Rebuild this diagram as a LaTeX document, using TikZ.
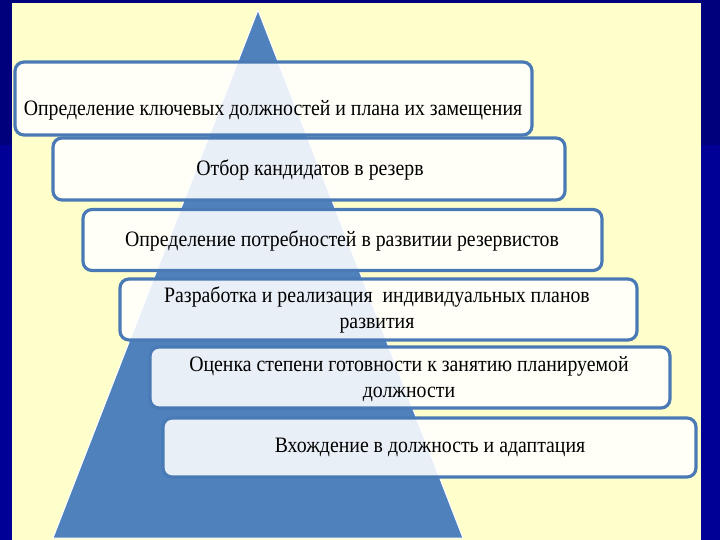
\documentclass[tikz,border=0pt]{standalone}
\usepackage{fontspec}
\setmainfont[FakeStretch=0.9]{Liberation Serif}
\usetikzlibrary{calc}
\definecolor{navytop}{HTML}{00007C}
\definecolor{navylow}{HTML}{000096}
\definecolor{panel}{HTML}{FFFFCC}
\definecolor{pyrblue}{HTML}{4F81BD}
\definecolor{boxblue}{HTML}{4A7AB5}

\begin{document}
\begin{tikzpicture}[x=1pt, y=-1pt,
		stagebox/.style={draw=boxblue, line width=3.2pt, rounded corners=9pt, fill=white, fill opacity=0.88},
		stagetext/.style={align=center, font=\fontsize{22}{26}\selectfont, text=black, inner sep=0pt}]
		\useasboundingbox (0,0) rectangle (720,540);

		% slide background
		\fill[navytop] (0,0) rectangle (720,540);
		\fill[navylow] (0,145) rectangle (720,540);
		\fill[panel] (12,3) rectangle (701,540);

		% pyramid
		\filldraw[fill=pyrblue, draw=white, line width=1pt] (258,10) -- (463,538) -- (53,538) -- cycle;

		% stages, top to bottom
		\node[stagebox, minimum width=517, minimum height=73] (box1) at (273.5,98.5) {};
		\node[stagetext] (txt1) at (273,110) {Определение ключевых должностей и плана их замещения};

		\node[stagebox, minimum width=512, minimum height=62] (box2) at (309,169) {};
		\node[stagetext] (txt2) at (310,170) {Отбор кандидатов в резерв};

		\node[stagebox, minimum width=519, minimum height=61] (box3) at (342.5,240) {};
		\node[stagetext] (txt3) at (342,241) {Определение потребностей в развитии резервистов};

		\node[stagebox, minimum width=517, minimum height=61] (box4) at (378.5,309.5) {};
		\node[stagetext] (txt4) at (377,310) {Разработка и реализация \ индивидуальных планов\\развития};

		\node[stagebox, minimum width=520, minimum height=61] (box5) at (410,377.5) {};
		\node[stagetext] (txt5) at (409,379) {Оценка степени готовности к занятию планируемой\\должности};

		\node[stagebox, minimum width=533, minimum height=59] (box6) at (429.5,447.5) {};
		\node[stagetext] (txt6) at (430,447) {Вхождение в должность и адаптация};
	\end{tikzpicture}
\end{document}
